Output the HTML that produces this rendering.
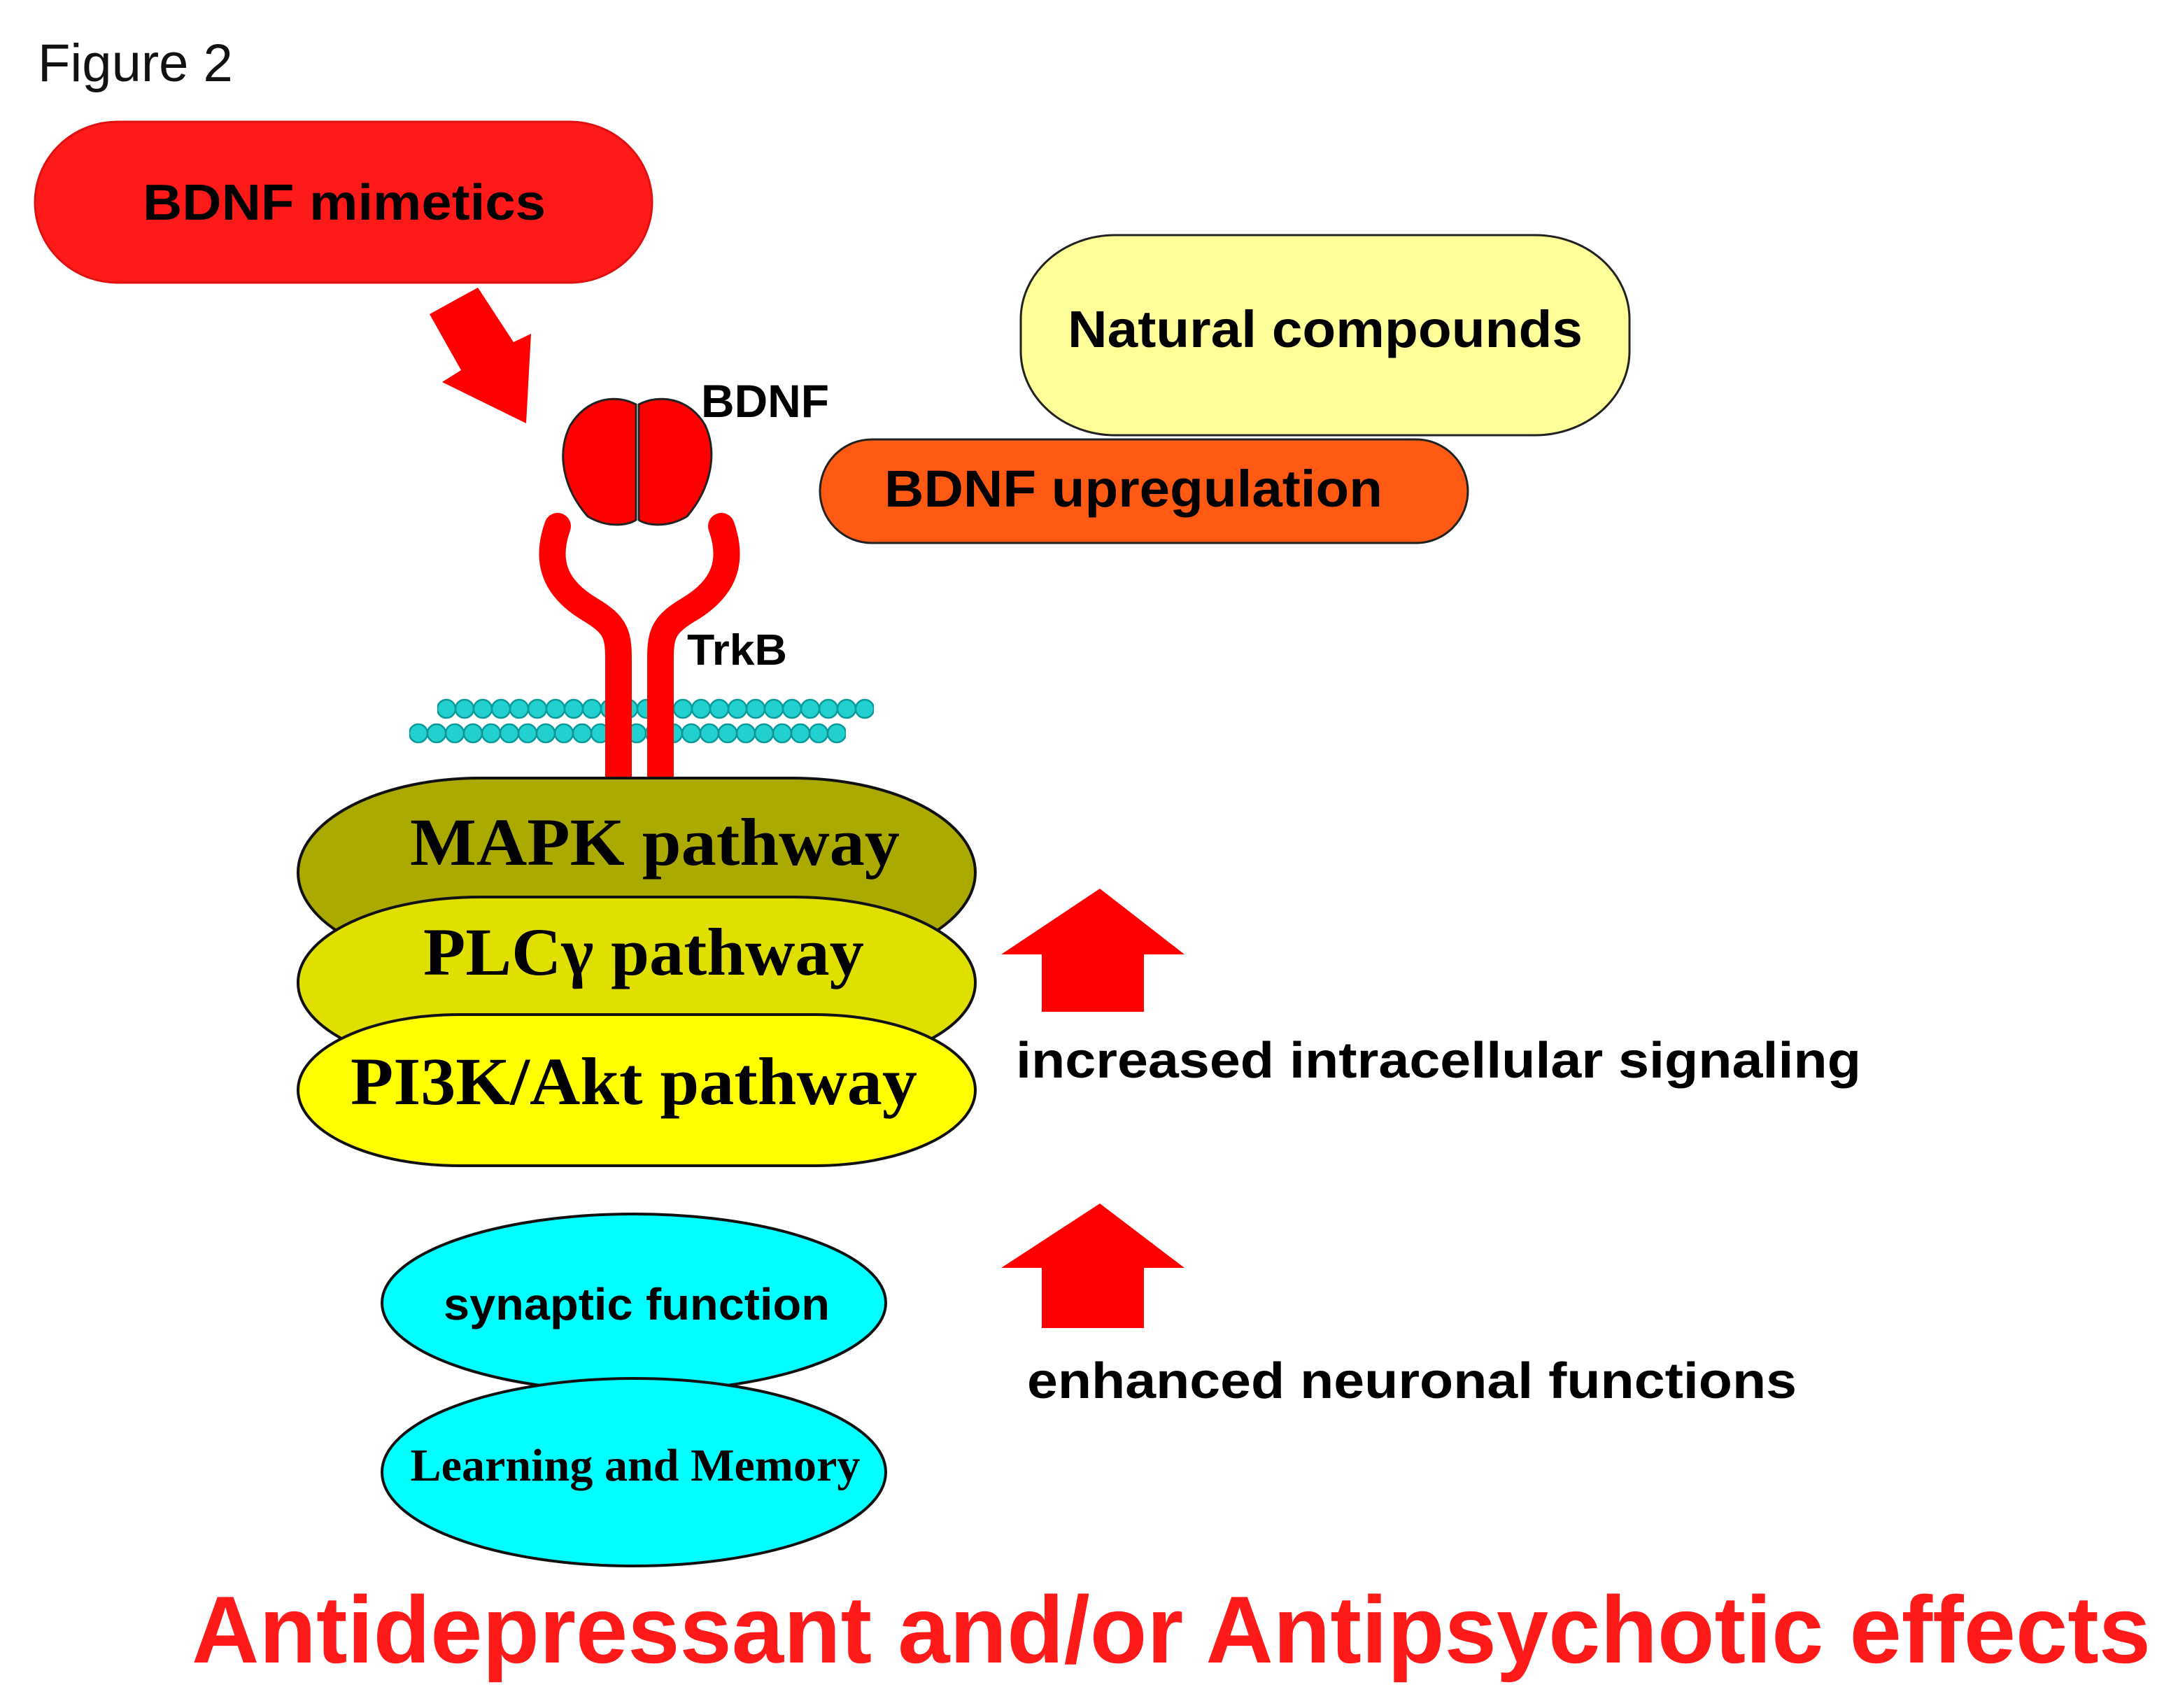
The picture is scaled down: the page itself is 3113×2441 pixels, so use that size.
<!DOCTYPE html>
<html><head><meta charset="utf-8"><style>
html,body{margin:0;padding:0;background:#fff;}
svg{display:block;}
.s{font-family:"Liberation Sans",Arial,sans-serif;font-weight:bold;}
.r{font-family:"Liberation Serif","Times New Roman",serif;font-weight:bold;}
</style></head><body>
<svg width="3113" height="2441" viewBox="0 0 3113 2441" xmlns="http://www.w3.org/2000/svg">
<defs>
<pattern id="bead1" x="625" y="997" width="26" height="32" patternUnits="userSpaceOnUse">
<circle cx="13" cy="16" r="13" fill="#22d0d0" stroke="#0a9a9a" stroke-width="2.5"/>
</pattern>
<pattern id="bead2" x="585" y="1032" width="26" height="32" patternUnits="userSpaceOnUse">
<circle cx="13" cy="16" r="13" fill="#22d0d0" stroke="#0a9a9a" stroke-width="2.5"/>
</pattern>
</defs>
<text x="54" y="116" font-family="Liberation Sans, Arial, sans-serif" font-size="76" fill="#111">Figure 2</text>

<rect x="50" y="174" width="882" height="230" rx="118" ry="115" fill="#ff1a1a" stroke="#e01010" stroke-width="3"/>
<text class="s" x="492" y="314" font-size="72" text-anchor="middle" textLength="576" lengthAdjust="spacingAndGlyphs">BDNF mimetics</text>

<polygon points="614,449 683,411 734,489 759,477 752,605 632,546 659,529" fill="#ff0000"/>

<rect x="1459" y="336" width="870" height="286" rx="135" ry="120" fill="#ffff99" stroke="#222" stroke-width="3"/>
<text class="s" x="1894" y="496" font-size="74" text-anchor="middle" textLength="736" lengthAdjust="spacingAndGlyphs">Natural compounds</text>
<rect x="1172" y="628" width="926" height="148" rx="74" ry="74" fill="#ff5a14" stroke="#222" stroke-width="3"/>
<text class="s" x="1620" y="724" font-size="74" text-anchor="middle" textLength="712" lengthAdjust="spacingAndGlyphs">BDNF upregulation</text>

<text class="s" x="1002" y="596" font-size="66" textLength="183" lengthAdjust="spacingAndGlyphs">BDNF</text>
<text class="s" x="982" y="950" font-size="62" textLength="143" lengthAdjust="spacingAndGlyphs">TrkB</text>

<path d="M909 578 C880 563 840 568 815 608 C795 648 805 698 840 738 C870 756 900 750 909 743 Z" fill="#ff0000" stroke="#222" stroke-width="3"/>
<path d="M913 578 C942 563 985 568 1008 608 C1026 648 1016 698 982 738 C952 756 922 750 913 743 Z" fill="#ff0000" stroke="#222" stroke-width="3"/>

<rect x="625" y="997" width="624" height="32" fill="url(#bead1)"/>
<rect x="585" y="1032" width="624" height="32" fill="url(#bead2)"/>

<path d="M797 752 C780 800 790 840 845 872 C878 892 884 905 884 940 L884 1120" fill="none" stroke="#ff0000" stroke-width="38" stroke-linecap="round"/>
<path d="M1031 752 C1048 800 1038 840 983 872 C950 892 944 905 944 940 L944 1120" fill="none" stroke="#ff0000" stroke-width="38" stroke-linecap="round"/>

<rect x="426" y="1112" width="968" height="270" rx="260" ry="135" fill="#aaaa00" stroke="#111" stroke-width="4"/>
<text class="r" x="936" y="1236" font-size="96" text-anchor="middle" textLength="700" lengthAdjust="spacingAndGlyphs">MAPK pathway</text>
<rect x="426" y="1282" width="968" height="245" rx="260" ry="122" fill="#e0e000" stroke="#111" stroke-width="4"/>
<text class="r" x="920" y="1393" font-size="96" text-anchor="middle" textLength="630" lengthAdjust="spacingAndGlyphs">PLCγ pathway</text>
<rect x="426" y="1450" width="968" height="216" rx="230" ry="108" fill="#ffff00" stroke="#111" stroke-width="4"/>
<text class="r" x="906" y="1578" font-size="96" text-anchor="middle" textLength="810" lengthAdjust="spacingAndGlyphs">PI3K/Akt pathway</text>

<polygon points="1572,1270 1693,1364 1635,1364 1635,1446 1489,1446 1489,1364 1431,1364" fill="#ff0000"/>
<polygon points="1572,1720 1693,1812 1635,1812 1635,1898 1489,1898 1489,1812 1431,1812" fill="#ff0000"/>

<text class="s" x="1452" y="1540" font-size="72" textLength="1208" lengthAdjust="spacingAndGlyphs">increased intracellular signaling</text>
<text class="s" x="1468" y="1998" font-size="72" textLength="1100" lengthAdjust="spacingAndGlyphs">enhanced neuronal functions</text>

<ellipse cx="906" cy="1862" rx="360" ry="127" fill="#00ffff" stroke="#111" stroke-width="4"/>
<text class="s" x="910" y="1886" font-size="64" text-anchor="middle" textLength="552" lengthAdjust="spacingAndGlyphs">synaptic function</text>
<ellipse cx="906" cy="2104" rx="360" ry="134" fill="#00ffff" stroke="#111" stroke-width="4"/>
<text class="r" x="908" y="2116" font-size="66" text-anchor="middle" textLength="643" lengthAdjust="spacingAndGlyphs">Learning and Memory</text>

<text class="s" x="274" y="2376" font-size="136" fill="#ff1a1a" textLength="2800" lengthAdjust="spacingAndGlyphs">Antidepressant and/or Antipsychotic effects</text>
</svg>
</body></html>
